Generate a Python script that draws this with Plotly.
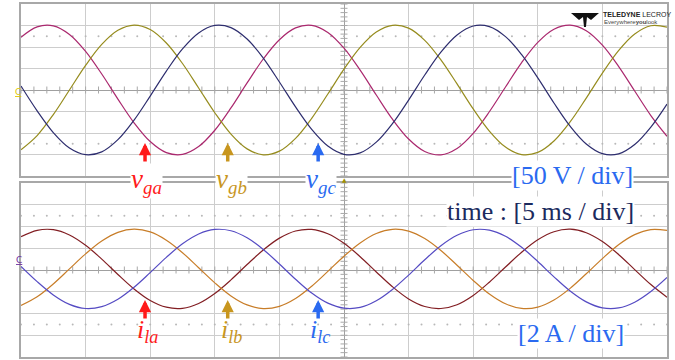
import numpy as np
import plotly.graph_objects as go

# time base: 5 ms / div, 10 div, trigger at centre
t_ms = [-25.0, -23.75, -22.5, -21.25, -20.0, -18.75, -17.5, -16.25, -15.0, -13.75,
        -12.5, -11.25, -10.0, -8.75, -7.5, -6.25, -5.0, -3.75, -2.5, -1.25,
        0.0, 1.25, 2.5, 3.75, 5.0, 6.25, 7.5, 8.75, 10.0, 11.25,
        12.5, 13.75, 15.0, 16.25, 17.5, 18.75, 20.0, 21.25, 22.5, 23.75, 25.0]

# grid voltages [V]
v_ga = [122.7, 146.9, 149.2, 129.2, 89.9, 37.2, -21.1, -76.2, -119.9, -145.7,
        -149.8, -131.6, -93.6, -41.7, 16.4, 72.1, 117.0, 144.5, 150.3, 133.8,
        97.3, 46.2, -11.7, -67.9, -114.0, -143.0, -150.7, -135.9, -100.8, -50.6,
        7.0, 63.7, 110.9, 141.4, 150.9, 137.9, 104.3, 55.1, -2.3, -59.4, -107.6]
v_gb = [-138.8, -105.9, -57.2, 0.0, 57.2, 105.9, 138.8, 151.0, 140.6, 109.2,
        61.6, 4.7, -52.9, -102.5, -136.9, -150.8, -142.2, -112.4, -65.8, -9.4,
        48.4, 99.0, 134.8, 150.5, 143.8, 115.5, 70.0, 14.1, -44.0, -95.4,
        -132.7, -150.1, -145.1, -118.5, -74.2, -18.8, 39.4, 91.7, 130.4, 149.5, 146.4]
v_gc = [9.4, -48.5, -99.0, -134.9, -150.5, -143.8, -115.5, -70.0, -14.1, 44.0,
        95.5, 132.7, 150.1, 145.1, 118.5, 74.2, 18.7, -39.4, -91.7, -130.4,
        -149.5, -146.3, -121.3, -78.2, -23.4, 34.9, 88.0, 127.9, 148.8, 147.4,
        124.1, 82.2, 28.1, -30.3, -84.1, -125.4, -147.9, -148.4, -126.7, -86.1, -32.7]

# load currents [A]
i_la = [3.07, 3.65, 3.71, 3.22, 2.27, 1.00, -0.41, -1.74, -2.80, -3.42,
        -3.52, -3.08, -2.16, -0.91, 0.50, 1.84, 2.93, 3.59, 3.73, 3.33,
        2.45, 1.22, -0.18, -1.54, -2.66, -3.36, -3.54, -3.19, -2.34, -1.12,
        0.27, 1.64, 2.78, 3.52, 3.75, 3.43, 2.62, 1.43, 0.04, -1.34, -2.50]
i_lb = [-3.26, -2.46, -1.28, 0.10, 1.48, 2.66, 3.46, 3.75, 3.50, 2.74,
        1.59, 0.21, -1.18, -2.38, -3.21, -3.55, -3.34, -2.62, -1.49, -0.13,
        1.27, 2.49, 3.36, 3.74, 3.58, 2.89, 1.79, 0.44, -0.96, -2.21,
        -3.11, -3.53, -3.41, -2.76, -1.69, -0.35, 1.05, 2.32, 3.25, 3.71, 3.64]
i_lc = [0.33, -1.07, -2.29, -3.16, -3.54, -3.37, -2.69, -1.59, -0.24, 1.16,
        2.41, 3.31, 3.73, 3.61, 2.96, 1.89, 0.55, -0.85, -2.12, -3.05,
        -3.51, -3.44, -2.83, -1.79, -0.47, 0.94, 2.23, 3.19, 3.70, 3.66,
        3.10, 2.09, 0.78, -0.63, -1.93, -2.93, -3.48, -3.49, -2.96, -1.98, -0.69]

volt_colors = ["rgb(170,40,110)", "rgb(150,140,30)", "rgb(45,45,110)"]
curr_colors = ["rgb(130,30,35)", "rgb(200,125,40)", "rgb(85,75,195)"]

fig = go.Figure()

# scope graticule extras: centre-line ticks and dotted lines at +-2.5 div
xs = np.arange(-25, 25.01, 1.0)
grat = "#a8a8a8"
for xa, ya, yr, step in [("x", "y", 200, 10), ("x2", "y2", 8, 0.4)]:
    fig.add_trace(go.Scatter(x=xs, y=np.zeros_like(xs), mode="markers", xaxis=xa, yaxis=ya,
                             marker=dict(symbol="line-ns-open", size=5, color=grat, line=dict(width=1, color=grat)),
                             hoverinfo="skip"))
    ys = np.arange(-yr, yr + step / 2, step)
    fig.add_trace(go.Scatter(x=np.zeros_like(ys), y=ys, mode="markers", xaxis=xa, yaxis=ya,
                             marker=dict(symbol="line-ew-open", size=5, color=grat, line=dict(width=1, color=grat)),
                             hoverinfo="skip"))
    for s in (1, -1):
        fig.add_trace(go.Scatter(x=xs, y=np.full_like(xs, s * yr * 2.5 / 4), mode="markers",
                                 xaxis=xa, yaxis=ya, marker=dict(size=2, color="#b8b8b8"), hoverinfo="skip"))

for vals, col in zip([v_ga, v_gb, v_gc], volt_colors):
    fig.add_trace(go.Scatter(x=t_ms, y=vals, mode="lines", xaxis="x", yaxis="y",
                             line=dict(color=col, width=1.2, shape="spline")))
for vals, col in zip([i_la, i_lb, i_lc], curr_colors):
    fig.add_trace(go.Scatter(x=t_ms, y=vals, mode="lines", xaxis="x2", yaxis="y2",
                             line=dict(color=col, width=1.2, shape="spline")))

ax = dict(showgrid=True, gridcolor="#cdcdcd", gridwidth=1, zeroline=True,
          zerolinecolor="#a0a0a0", zerolinewidth=1, showline=True, mirror=True,
          linecolor="#a8a8a8", linewidth=1.5, showticklabels=False, ticks="")

serif = "Liberation Serif"
red, gold, blue = "#FF1A1A", "#C8961E", "#2A6AF0"
anns = []
for xa, col in [(-15.4, red), (-9.0, gold), (-2.0, blue)]:
    anns.append(dict(x=xa, y=-123, xref="x", yref="y", ax=0, ay=20, text="", showarrow=True,
                     arrowhead=2, arrowsize=0.7, arrowwidth=3.5, arrowcolor=col))
    anns.append(dict(x=xa, y=-2.76, xref="x2", yref="y2", ax=0, ay=20, text="", showarrow=True,
                     arrowhead=2, arrowsize=0.7, arrowwidth=3.5, arrowcolor=col))
for px_, txt, col in [(146, "v<sub>ga</sub>", red), (231, "v<sub>gb</sub>", gold), (321, "v<sub>gc</sub>", blue)]:
    anns.append(dict(x=px_ / 675, y=1 - 181 / 360, xref="paper", yref="paper", text="<i>" + txt + "</i>",
                     showarrow=False, font=dict(family=serif, size=27, color=col), bgcolor="white",
                     borderpad=0, xanchor="center", yanchor="middle"))
for px_, txt, col in [(147, "i<sub>la</sub>", red), (232, "i<sub>lb</sub>", gold), (320, "i<sub>lc</sub>", blue)]:
    anns.append(dict(x=px_ / 675, y=1 - 331 / 360, xref="paper", yref="paper", text="<i>" + txt + "</i>",
                     showarrow=False, font=dict(family=serif, size=26, color=col),
                     xanchor="center", yanchor="middle"))
for px_, py_, txt, col in [(572, 175, "[50 V / div]", blue), (540, 211, "time : [5 ms / div]", "#1B2A5E"),
                           (571, 333, "[2 A / div]", blue)]:
    anns.append(dict(x=px_ / 675, y=1 - py_ / 360, xref="paper", yref="paper", text=txt, showarrow=False,
                     font=dict(family=serif, size=26, color=col), bgcolor="white", borderpad=0,
                     xanchor="center", yanchor="middle"))
# channel markers and trigger marker
anns.append(dict(x=14 / 675, y=1 - 86 / 360, xref="paper", yref="paper", text="<u>C</u>", showarrow=False,
                 font=dict(family="DejaVu Sans", size=9, color="#E0C800"), borderpad=0))
anns.append(dict(x=15 / 675, y=1 - 266 / 360, xref="paper", yref="paper", text="<u>C</u>", showarrow=False,
                 font=dict(family="DejaVu Sans", size=9, color="#7030A0"), borderpad=0))
anns.append(dict(x=344 / 675, y=1 - 179 / 360, xref="paper", yref="paper", text="▲", showarrow=False,
                 font=dict(family="DejaVu Sans", size=6, color="#A09000"), borderpad=0))
# logo
anns.append(dict(x=602 / 675, y=1 - 15 / 360, xref="paper", yref="paper", xanchor="left", yanchor="middle",
                 text="<b>TELEDYNE</b> LECROY", showarrow=False, borderpad=0,
                 font=dict(family="Liberation Sans", size=7, color="#222222")))
anns.append(dict(x=603 / 675, y=1 - 22 / 360, xref="paper", yref="paper", xanchor="left", yanchor="middle",
                 text="Everywhere<b>you</b>look", showarrow=False, borderpad=0,
                 font=dict(family="Liberation Sans", size=6, color="#444444")))


def pp(x, y):
    return f"{x / 675:.4f},{1 - y / 360:.4f}"


logo = ("M " + pp(571, 13) + " L " + pp(599, 13) + " L " + pp(591, 20) + " L " + pp(587, 17)
        + " L " + pp(586, 27) + " L " + pp(584, 27) + " L " + pp(583, 17) + " L " + pp(579, 20) + " Z")

fig.update_layout(
    width=675, height=360, margin=dict(l=0, r=0, t=0, b=0),
    paper_bgcolor="white", plot_bgcolor="white", showlegend=False,
    xaxis=dict(ax, range=[-25, 25], dtick=5, tick0=0, domain=[21 / 675, 667 / 675], anchor="y"),
    yaxis=dict(ax, range=[-200, 200], dtick=50, domain=[1 - 176 / 360, 1 - 4 / 360], anchor="x"),
    xaxis2=dict(ax, range=[-25, 25], dtick=5, tick0=0, domain=[21 / 675, 667 / 675], anchor="y2"),
    yaxis2=dict(ax, range=[-8, 8], dtick=2, domain=[1 - 357 / 360, 1 - 183 / 360], anchor="x2"),
    annotations=anns,
    shapes=[dict(type="path", path=logo, xref="paper", yref="paper", fillcolor="#111111", line=dict(width=0))],
)

fig.write_html("out.html", config={"displayModeBar": False},
               post_script="document.body.style.margin='0px';")
